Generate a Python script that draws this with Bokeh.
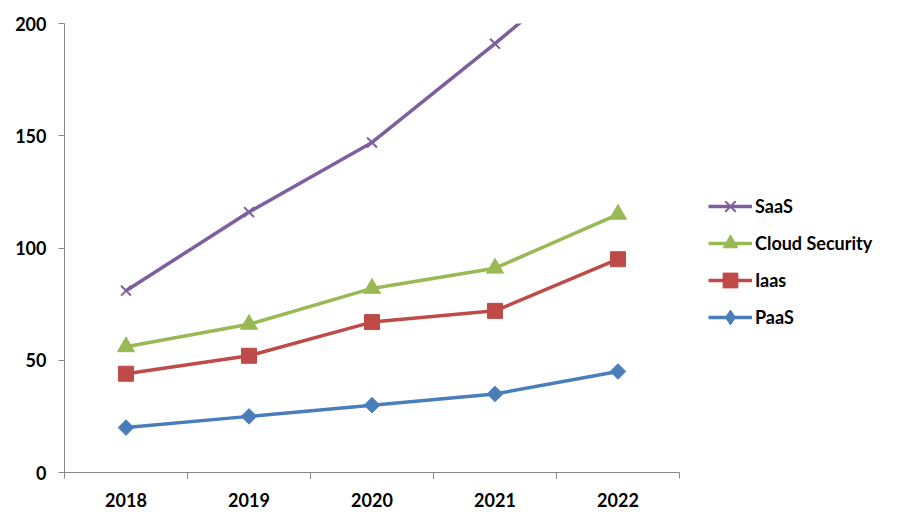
import math
from bokeh.plotting import figure
from bokeh.models import Range1d, FixedTicker, Legend, LegendItem
from bokeh.embed import file_html
from bokeh.resources import INLINE

years = ["2018", "2019", "2020", "2021", "2022"]
saas = [81, 116, 147, 191, 237]
cloud_security = [56, 66, 82, 91, 115]
iaas = [44, 52, 67, 72, 95]
paas = [20, 25, 30, 35, 45]
y_ticks = [0, 50, 100, 150, 200]

x = list(range(1, len(years) + 1))

FONT = "Lato"
GRAY = "#868686"
FS = "18px"

p = figure(frame_width=615, frame_height=449, output_backend="svg", toolbar_location=None,
           x_range=Range1d(0.5, len(years) + 0.5), y_range=Range1d(0, 200),
           min_border_left=64, min_border_right=0, min_border_top=23, min_border_bottom=53)
p.outline_line_color = None
p.xgrid.visible = False
p.ygrid.visible = False
p.background_fill_color = "white"
p.border_fill_color = "white"

# x axis: labels at categories, tick marks at boundaries
p.xaxis.ticker = FixedTicker(ticks=x, minor_ticks=[i + 0.5 for i in range(0, len(years) + 1)])
p.xaxis.major_label_overrides = {i: y for i, y in zip(x, years)}
p.xaxis.major_tick_line_color = None
p.xaxis.minor_tick_line_color = GRAY
p.xaxis.minor_tick_in = 0
p.xaxis.minor_tick_out = 6
p.xaxis.axis_line_color = GRAY
p.xaxis.major_label_standoff = 14
p.xaxis.major_label_text_font = FONT
p.xaxis.major_label_text_font_style = "bold"
p.xaxis.major_label_text_font_size = FS
p.xaxis.major_label_text_color = "black"

p.yaxis.ticker = FixedTicker(ticks=y_ticks)
p.yaxis.minor_tick_line_color = None
p.yaxis.major_tick_line_color = GRAY
p.yaxis.major_tick_in = 0
p.yaxis.major_tick_out = 6
p.yaxis.axis_line_color = GRAY
p.yaxis.major_label_standoff = 12
p.yaxis.major_label_text_font = FONT
p.yaxis.major_label_text_font_style = "bold"
p.yaxis.major_label_text_font_size = FS
p.yaxis.major_label_text_color = "black"

BLUE = "#4A7EBB"
RED = "#BE4B48"
GREEN = "#98B954"
PURPLE = "#7D5FA0"
LW = 3.5

l_p = p.line(x, paas, line_color=BLUE, line_width=LW)
m_p = p.scatter(x, paas, marker="square", angle=math.pi / 4, size=11,
                fill_color=BLUE, line_color=BLUE)
# zero-size diamond used only for the legend swatch
m_p_leg = p.scatter(x, paas, marker="diamond", size=0, fill_color=BLUE, line_color=BLUE)
l_i = p.line(x, iaas, line_color=RED, line_width=LW)
m_i = p.scatter(x, iaas, marker="square", size=15, fill_color=RED, line_color=RED)
l_c = p.line(x, cloud_security, line_color=GREEN, line_width=LW)
m_c = p.scatter(x, cloud_security, marker="triangle", size=17, fill_color=GREEN, line_color=GREEN)
l_s = p.line(x, saas, line_color=PURPLE, line_width=LW)
m_s = p.scatter(x, saas, marker="x", size=14, line_color=PURPLE, line_width=2)

legend = Legend(items=[
    LegendItem(label="SaaS", renderers=[l_s, m_s]),
    LegendItem(label="Cloud Security", renderers=[l_c, m_c]),
    LegendItem(label="Iaas", renderers=[l_i, m_i]),
    LegendItem(label="PaaS", renderers=[l_p, m_p_leg]),
], location="center_left")
legend.title = " "
legend.title_text_font_size = "20px"
legend.title_standoff = 4
legend.border_line_color = None
legend.background_fill_alpha = 0
legend.padding = 0
legend.margin = 29
legend.spacing = 0
legend.glyph_width = 44
legend.glyph_height = 37
legend.label_standoff = 3
legend.label_height = 20
legend.label_text_font = FONT
legend.label_text_font_style = "bold"
legend.label_text_font_size = FS
legend.label_text_color = "black"
p.add_layout(legend, "right")

open("out.html", "w").write(file_html(p, INLINE))
